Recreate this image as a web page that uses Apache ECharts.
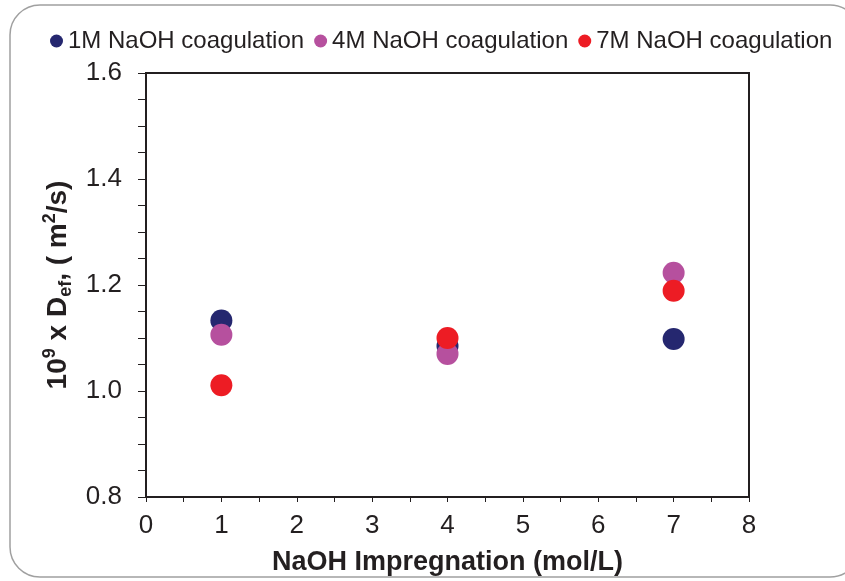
<!DOCTYPE html>
<html>
<head>
<meta charset="utf-8">
<script src="https://cdn.jsdelivr.net/npm/echarts@6/dist/echarts.min.js"></script>
<style>
  html, body { margin: 0; padding: 0; background: #ffffff; }
  #chart { width: 845px; height: 581px; }
</style>
</head>
<body>
<div id="chart"></div>
<script>
// NaOH impregnation concentration (mol/L)
const impregnation = [1, 4, 7];
// Effective diffusion coefficient, 10^9 x D_ef (m^2/s), by coagulation bath
const coag1M = [1.133, 1.085, 1.098];
const coag4M = [1.106, 1.070, 1.223];
const coag7M = [1.011, 1.100, 1.189];
const seriesNames = ['1M NaOH coagulation', '4M NaOH coagulation', '7M NaOH coagulation'];
const seriesColors = ['#25276f', '#b6509e', '#ed1c24'];
const xTicks = [0, 8, 1];
const yTicks = [0.8, 1.6, 0.2];

const ink = '#231f20';
const font = 'Liberation Sans, Arial, Helvetica, sans-serif';

function pairs(values) {
  return impregnation.map((x, i) => [x, values[i]]);
}

const chart = echarts.init(document.getElementById('chart'), null, { renderer: 'canvas' });

chart.setOption({
  backgroundColor: '#ffffff',
  animation: false,
  graphic: [{
    type: 'rect',
    silent: true,
    z: -10,
    shape: { x: 10, y: 5, width: 850, height: 572, r: 30 },
    style: { fill: 'none', stroke: '#a0a0a0', lineWidth: 1.5 }
  }],
  legend: {
    left: 45,
    top: 24,
    itemWidth: 13,
    itemHeight: 13,
    itemGap: 10,
    icon: 'circle',
    textStyle: { fontFamily: font, fontSize: 24, color: ink },
    data: seriesNames
  },
  grid: {
    left: 146, top: 73, right: 96, bottom: 82,
    show: true, borderColor: ink, borderWidth: 2,
    backgroundColor: 'transparent'
  },
  xAxis: {
    type: 'value',
    min: xTicks[0], max: xTicks[1], interval: xTicks[2],
    name: 'NaOH Impregnation (mol/L)',
    nameLocation: 'middle',
    nameGap: 52,
    nameTextStyle: { fontFamily: font, fontSize: 27, fontWeight: 'bold', color: ink },
    axisLine: { show: true, lineStyle: { color: ink, width: 2 } },
    axisTick: { show: true, inside: false, length: 5, lineStyle: { color: ink, width: 1 } },
    minorTick: { show: true, splitNumber: 2, length: 5, lineStyle: { color: ink, width: 1 } },
    splitLine: { show: false },
    axisLabel: { fontFamily: font, fontSize: 26, color: ink, margin: 16 }
  },
  yAxis: {
    type: 'value',
    min: yTicks[0], max: yTicks[1], interval: yTicks[2],
    name: '{t|10}{sup|9}{t| x D}{sub|ef}{t|, ( m}{sup|2}{t|/s)}',
    nameLocation: 'middle',
    nameRotate: 90,
    nameGap: 66,
    nameTextStyle: {
      fontFamily: font, fontSize: 28, fontWeight: 'bold', color: ink,
      rich: {
        t: { fontFamily: font, fontSize: 28, fontWeight: 'bold', color: ink, lineHeight: 34 },
        sup: { fontFamily: font, fontSize: 18, fontWeight: 'bold', color: ink, lineHeight: 18, verticalAlign: 'top' },
        sub: { fontFamily: font, fontSize: 18, fontWeight: 'bold', color: ink, lineHeight: 18, verticalAlign: 'bottom' }
      }
    },
    axisLine: { show: true, lineStyle: { color: ink, width: 2 } },
    axisTick: { show: true, inside: false, length: 8, lineStyle: { color: ink, width: 1 } },
    minorTick: { show: true, splitNumber: 4, length: 8, lineStyle: { color: ink, width: 1 } },
    splitLine: { show: false },
    axisLabel: {
      fontFamily: font, fontSize: 26, color: ink, margin: 24,
      formatter: v => v.toFixed(1)
    }
  },
  series: [coag1M, coag4M, coag7M].map((vals, i) => ({
    name: seriesNames[i],
    type: 'scatter',
    symbol: 'circle',
    symbolSize: 22,
    z: 2 + i,
    itemStyle: { color: seriesColors[i], opacity: 1 },
    data: pairs(vals)
  }))
});
</script>
</body>
</html>
